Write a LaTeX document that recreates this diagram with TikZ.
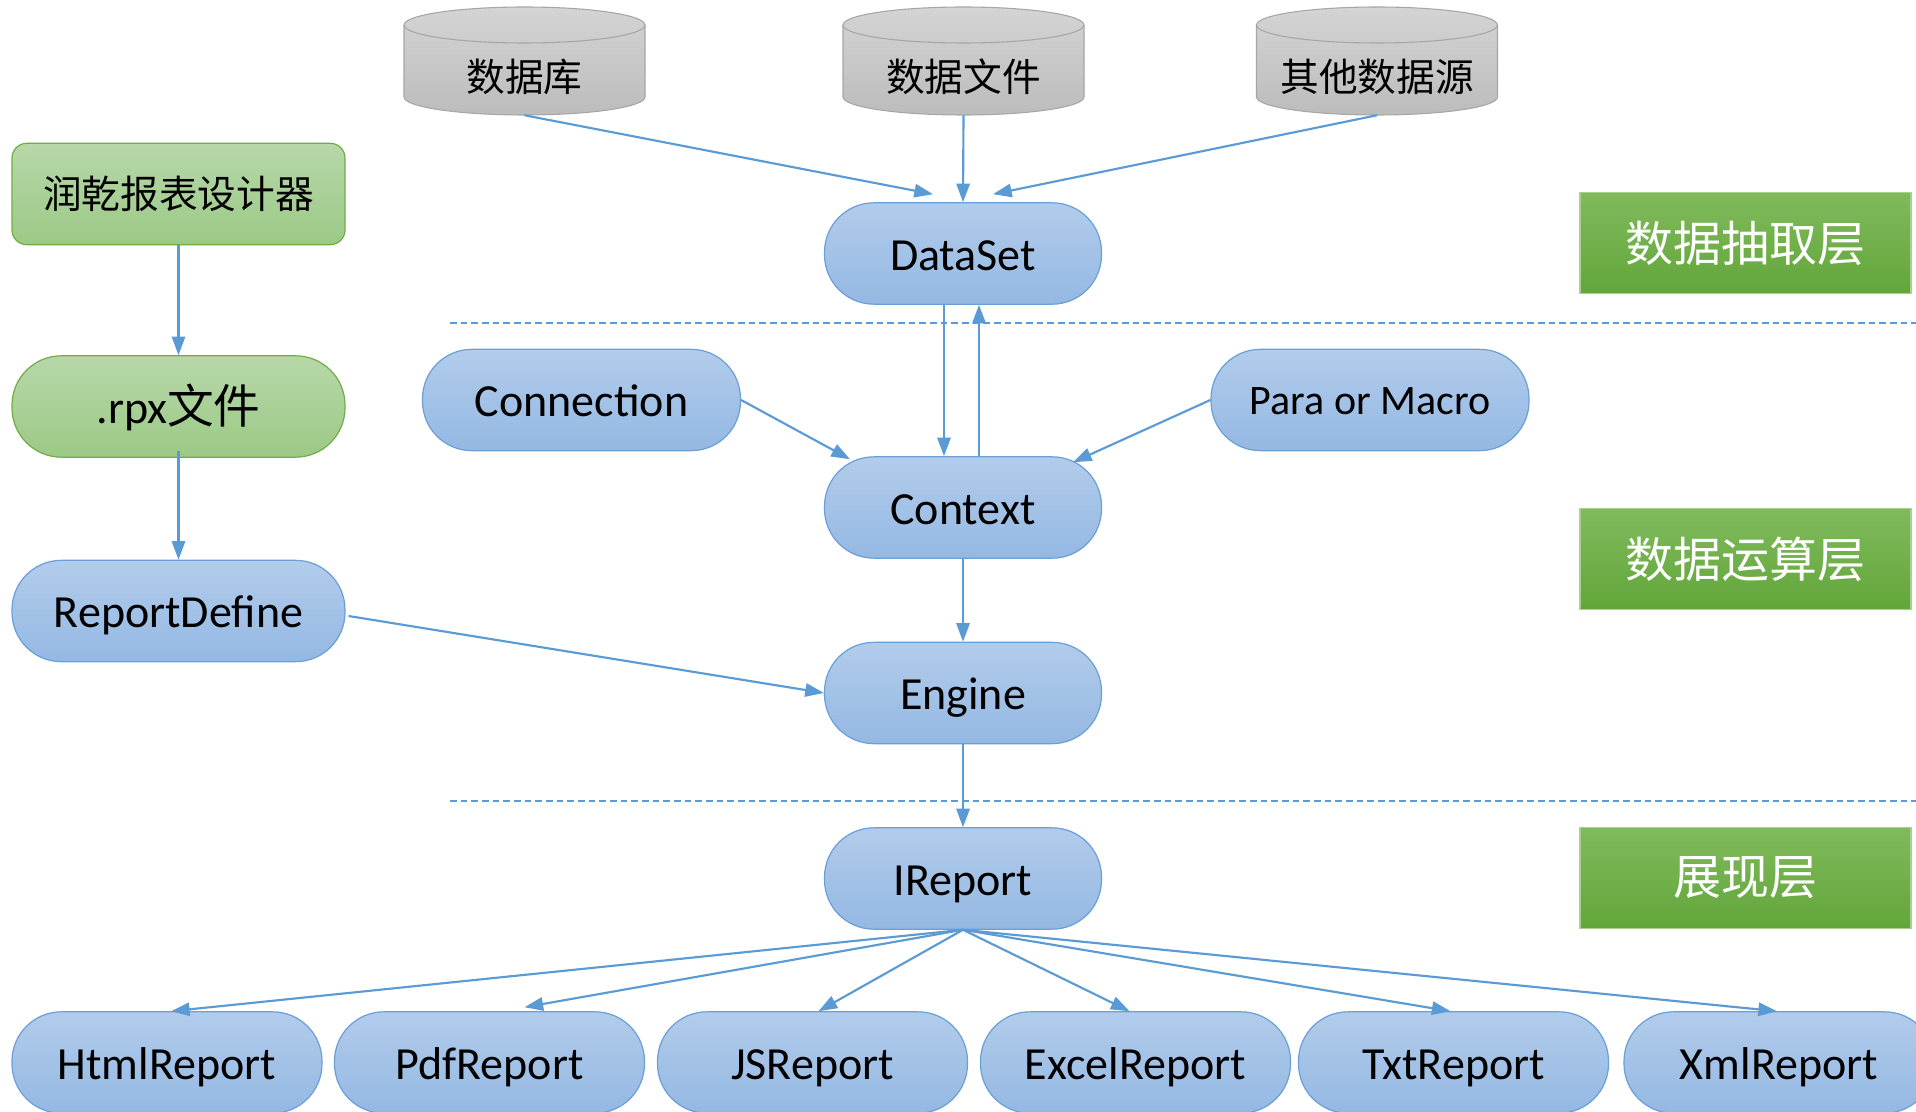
\documentclass[tikz,border=0pt]{standalone}
\usepackage{fontspec}
\setmainfont{Carlito}
\newfontfamily\cjkf{Noto Sans CJK SC}
\usetikzlibrary{arrows.meta,calc}
\definecolor{arrowc}{HTML}{5B9BD5}
\definecolor{bbord}{HTML}{6A9FD8}
\definecolor{btop}{HTML}{B2CCEB}
\definecolor{bbot}{HTML}{94B8E3}
\definecolor{gtop}{HTML}{B7D8A9}
\definecolor{gbot}{HTML}{9CC986}
\definecolor{gbord}{HTML}{70AD47}
\definecolor{ltop}{HTML}{80BA5C}
\definecolor{lbot}{HTML}{62A63A}
\definecolor{lbord}{HTML}{A9D18E}
\definecolor{ctop}{HTML}{D4D4D4}
\definecolor{cbot}{HTML}{BCBCBC}
\definecolor{cbord}{HTML}{A6A6A6}
\begin{document}
\begin{tikzpicture}[x=0.75pt,y=0.75pt,
  engfont/.style={font=\fontsize{34.5}{40}\selectfont, text height=25pt, text depth=0.2pt},
  bluenode/.style={rectangle, rounded corners=37pt, draw=bbord, line width=0.9pt,
    top color=btop, bottom color=bbot, minimum height=76pt, inner sep=0pt,
    text=black, engfont},
  greennode/.style={rectangle, rounded corners=37pt, draw=gbord, line width=0.9pt,
    top color=gtop, bottom color=gbot, minimum height=76pt, inner sep=0pt, text=black},
  greenbox/.style={rectangle, rounded corners=11pt, draw=gbord, line width=0.9pt,
    top color=gtop, bottom color=gbot, minimum height=76pt, inner sep=0pt, text=black},
  layerbox/.style={rectangle, draw=lbord, line width=0.9pt,
    top color=ltop, bottom color=lbot, minimum width=248.25pt, minimum height=76pt,
    inner sep=0pt, text=white, font=\cjkf\fontsize{36}{42}\selectfont},
  cylfill/.style={draw=cbord, line width=0.8pt, top color=ctop, bottom color=cbot},
  cylline/.style={draw=cbord, line width=0.8pt},
  cyltext/.style={minimum width=180pt, minimum height=57pt, inner sep=0pt, text=black,
    font=\cjkf\fontsize{29}{34}\selectfont},
  arr/.style={draw=arrowc, line width=1.6pt, -{Triangle[length=14pt,width=10pt]}},
  sepline/.style={draw=arrowc, line width=1.1pt, dash pattern=on 5pt off 3pt}
]
\useasboundingbox (0,0) rectangle (1916,-1112);
\clip (0,0) rectangle (1916,-1112);
\fill[white] (0,0) rectangle (1916,-1112);

% separators
\draw[sepline] (450,-323) -- (1916,-323);
\draw[sepline] (450,-801) -- (1916,-801);

% cylinders
\foreach \cx/\nm/\txt in {524.5/cyla/数据库, 963.5/cylb/数据文件, 1377/cylc/其他数据源}{
  \path[cylfill] ({\cx-120.5},-25) -- ({\cx-120.5},-97)
    arc[start angle=180, end angle=360, x radius=90.375pt, y radius=13.5pt]
    -- ({\cx+120.5},-25)
    arc[start angle=0, end angle=180, x radius=90.375pt, y radius=13.5pt] -- cycle;
  \draw[cylline] ({\cx-120.5},-25)
    arc[start angle=180, end angle=360, x radius=90.375pt, y radius=13.5pt];
  \node[cyltext] (\nm) at (\cx,-77) {\txt};
}

% left column
\node[greenbox, minimum width=249.75pt, font=\cjkf\fontsize{29}{34}\selectfont]
  (designer) at (178.5,-194) {润乾报表设计器};
\node[greennode, minimum width=249.75pt, engfont] (rpx) at (178.5,-406.5)
  {.rpx{\cjkf\fontsize{35}{40}\selectfont 文件}};
\node[bluenode, minimum width=249.75pt] (rdef) at (178.5,-611) {ReportDefine};

% center column
\node[bluenode, minimum width=207.75pt] (ds) at (963,-253.5) {DataSet};
\node[bluenode, minimum width=238.5pt] (conn) at (581.5,-400) {Connection};
\node[bluenode, minimum width=238.5pt, font=\fontsize{31.5}{36}\selectfont,
  text height=21.2pt] (para) at (1370,-400) {Para or Macro};
\node[bluenode, minimum width=207.75pt] (ctx) at (963,-507.5) {Context};
\node[bluenode, minimum width=207.75pt] (eng) at (963,-693) {Engine};
\node[bluenode, minimum width=207.75pt] (irp) at (963,-878.5) {IReport};

% bottom row
\node[bluenode, minimum width=232.5pt] (html) at (167,-1062.5) {HtmlReport};
\node[bluenode, minimum width=232.5pt] (pdf) at (489.5,-1062.5) {PdfReport};
\node[bluenode, minimum width=232.5pt] (js) at (812.5,-1062.5) {JSReport};
\node[bluenode, minimum width=232.5pt] (excel) at (1135.5,-1062.5) {ExcelReport};
\node[bluenode, minimum width=232.5pt] (txt) at (1453.5,-1062.5) {TxtReport};
\node[bluenode, minimum width=232.5pt] (xml) at (1779,-1062.5) {XmlReport};

% layer labels
\node[layerbox] (lay1) at (1745.5,-243) {数据抽取层};
\node[layerbox] (lay2) at (1745.5,-559) {数据运算层};
\node[layerbox] (lay3) at (1745.5,-878) {展现层};

% connectors
\draw[arr] (cyla.south) -- ([shift={(-30,8)}]ds.north);
\draw[arr] (cylb.south) -- (ds.north);
\draw[arr] (cylc.south) -- ([shift={(30,8)}]ds.north);
\draw[arr] ([shift={(-19,0)}]ds.south) -- ([shift={(-19,0)}]ctx.north);
\draw[arr] ([shift={(16,0)}]ctx.north) -- ([shift={(16,0)}]ds.south);
\draw[arr] (conn.east) -- ([shift={(-113,-3)}]ctx.north);
\draw[arr] (para.west) -- ([shift={(110,-6)}]ctx.north);
\draw[arr] (ctx.south) -- (eng.north);
\draw[arr] (eng.south) -- (irp.north);
\draw[arr] (designer.south) -- (rpx.north);
\draw[arr] ([shift={(0,7)}]rpx.south) -- (rdef.north);
\draw[arr] ([shift={(3,-5)}]rdef.east) -- (eng.west);
\draw[arr] (irp.south) -- ([shift={(4,0)}]html.north);
\draw[arr] (irp.south) -- ([shift={(35,4)}]pdf.north);
\draw[arr] (irp.south) -- ([shift={(6,0)}]js.north);
\draw[arr] (irp.south) -- ([shift={(-6,0)}]excel.north);
\draw[arr] (irp.south) -- ([shift={(-3,0)}]txt.north);
\draw[arr] (irp.south) -- ([shift={(-2,0)}]xml.north);
\end{tikzpicture}
\end{document}
